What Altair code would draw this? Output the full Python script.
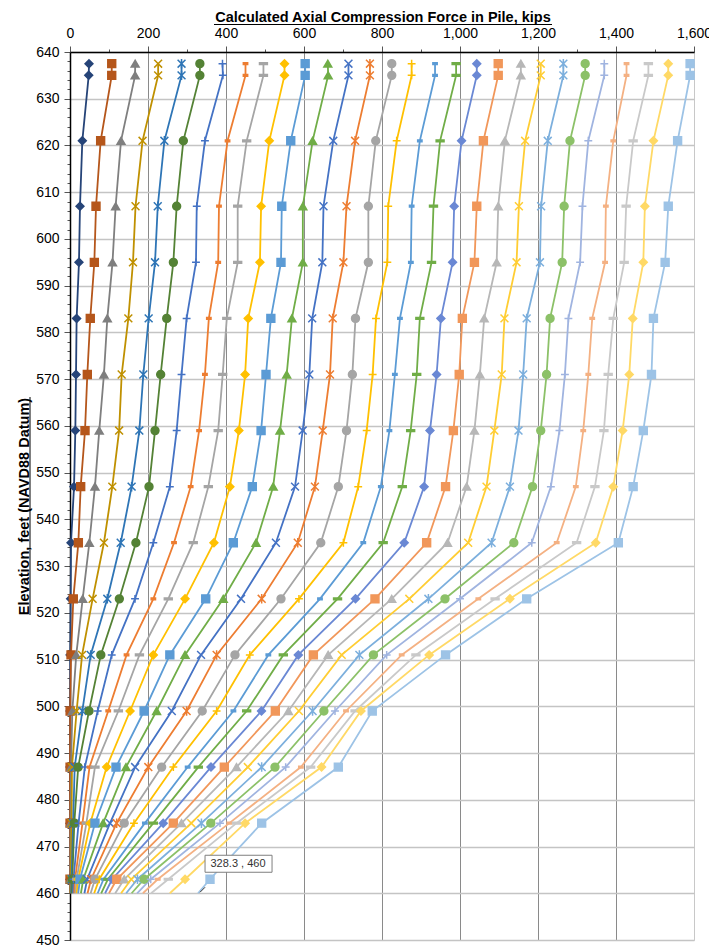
import altair as alt
import pandas as pd

# ---------------- data ----------------
elevations = [637.5, 635, 621, 607, 595, 583, 571, 559, 547, 535, 523, 511, 499, 487, 475, 463, 460]

s1 = [48.7, 48, 31.6, 25.6, 23, 17, 15.4, 13.7, 10.3, 2.6, 1.7, 0.5, 0.2, 0.1, 0, 0, 0]
s2 = [107, 107, 78.6, 66.7, 62.4, 52, 44.4, 38.5, 27.4, 21.4, 8.5, 2.6, 0.3, 0.2, 0.1, 0, 0]
s3 = [167, 167, 130.8, 117, 109, 95.7, 87, 75, 64, 49.6, 32.5, 16, 6, 2.5, 1.5, 1, 0.8]
s4 = [226, 226, 186, 168, 161.5, 149.6, 132.5, 126, 108.5, 87, 58, 31, 17, 5, 4, 2, 1.5]
s5 = [286, 286, 242, 225, 218, 201.7, 188, 177.8, 158, 130, 95.7, 53, 31.6, 12, 8, 4, 3]
s6 = [333, 333, 290.6, 273.5, 265, 248, 232.5, 218, 202.6, 169, 126.5, 79, 48.7, 21, 11, 6, 5]
s7 = [391, 392, 346, 325, 323, 299, 286, 273.5, 256, 213.7, 166.7, 107, 71, 38, 22, 9, 8]
s8 = [450, 450, 404, 382, 380, 356, 346, 331, 309.4, 266.7, 213.7, 145, 98, 50, 32, 13, 11]
s9 = [496, 496, 453, 430, 430, 402, 391.5, 380, 354.7, 316, 252, 178, 124, 64, 42, 17, 14]
s10 = [550, 550, 511, 490, 487, 457, 449, 433, 410, 369, 295, 213.7, 154, 94, 52, 21, 17]
s11 = [603, 603, 566, 543, 541, 515, 502.6, 490, 467.5, 418.8, 348, 256, 190, 118, 64, 25.6, 21]
s12 = [661, 662, 622, 597, 597, 569, 555.6, 538.5, 521, 477, 393, 295, 222, 143.6, 85, 34, 28]
s13 = [714, 714, 675, 650, 647, 621, 613.7, 596.6, 577, 528, 438.5, 336, 261, 167, 102.6, 44, 37]
s14 = [769, 769, 731, 709, 701, 673.6, 666.7, 648, 628, 584, 491.5, 376, 299, 200.8, 119.7, 54, 45]
s15 = [825, 825, 784, 765, 765, 732, 724, 709, 688, 643, 541, 423, 339, 235, 139, 64, 53]
s16 = [876, 876, 837.6, 816, 813.7, 784.6, 776, 760.7, 739, 701, 587, 461, 376, 265, 164, 75, 62]
s17 = [936, 936, 897, 876, 874, 846, 833, 819, 797, 752, 641, 508.5, 419, 301.7, 192, 86, 71]
s18 = [990, 990, 949, 932, 927, 897, 889, 873.5, 852, 803, 686, 547, 453, 329, 213.7, 97, 80]
s19 = [1043, 1043, 1004, 985, 981, 951, 940, 923, 908, 857, 732, 585.5, 491, 361.5, 239, 108, 90]
s20 = [1098, 1098, 1060, 1043, 1037, 1006, 998, 983, 963, 914.5, 782, 624, 526.5, 395.7, 265, 120, 100]
s21 = [1156, 1156, 1115, 1098, 1094, 1062, 1051, 1037, 1017, 968, 825, 662, 560, 427, 286, 139, 116]
s22 = [1207, 1207, 1167, 1151, 1145, 1114, 1107, 1088, 1068, 1021, 870, 696.6, 587, 456, 311, 157, 131]
s23 = [1265, 1265, 1225, 1208, 1205, 1171, 1162, 1150, 1128, 1081, 919, 742, 622, 491.5, 337, 173, 144]
s24 = [1321, 1321, 1282, 1267, 1262, 1231, 1222, 1207, 1186, 1138, 961.5, 778, 651, 525.6, 361, 190, 158]
s25 = [1370, 1370, 1329, 1314, 1308, 1278, 1269, 1255, 1233, 1184, 1000, 812, 679.5, 553, 384.6, 207, 172]
s26 = [1427, 1427, 1393, 1374, 1372, 1339, 1329, 1316, 1297, 1248, 1047, 850.5, 707.7, 592, 408.5, 225, 187]
s27 = [1483, 1483, 1444, 1426, 1421, 1393, 1380, 1369, 1346, 1299, 1090, 887, 731, 617, 427, 252, 208]
s28 = [1534, 1534, 1496, 1474, 1470, 1443, 1434, 1417, 1393, 1348, 1128, 921, 746, 645, 449, 295, 256]
s29 = [1590, 1590, 1558, 1534, 1526, 1496, 1491, 1470, 1444, 1406, 1171, 963, 775, 688, 491.5, 359, 328.3]

all_series = [s1, s2, s3, s4, s5, s6, s7, s8, s9, s10, s11, s12, s13, s14, s15,
              s16, s17, s18, s19, s20, s21, s22, s23, s24, s25, s26, s27, s28, s29]
series_names = [f"Series {i}" for i in range(1, 30)]

colors = ["#264478", "#B5561B", "#7F7F7F", "#BF9000", "#2E75B6", "#548235",
          "#4472C4", "#ED7D31", "#A5A5A5", "#FFC000", "#5B9BD5", "#70AD47",
          "#4472C4", "#ED7D31", "#A5A5A5", "#FFC000", "#5B9BD5", "#70AD47",
          "#6A88D4", "#F1975A", "#B7B7B7", "#FFCD33", "#7CAFDD", "#8CC168",
          "#A0B4E0", "#F4B183", "#C9C9C9", "#FFD966", "#9DC3E6"]

DIAMOND = "diamond"
SQUARE = "square"
TRIANGLE = "triangle-up"
XMARK = "M-1,-1L1,1M-1,1L1,-1"
STAR = "M-1,-1L1,1M-1,1L1,-1M0,-1.2L0,1.2"
CIRCLE = "circle"
PLUS = "M-1,0L1,0M0,-1L0,1"
DASH = "M-0.55,-0.22H0.55V0.22H-0.55Z"
LONGDASH = "M-1,-0.22H1V0.22H-1Z"
marker_cycle = [DIAMOND, SQUARE, TRIANGLE, XMARK, STAR, CIRCLE, PLUS, DASH, LONGDASH]
shapes = [marker_cycle[i % 9] for i in range(29)]

rows = []
for name, vals in zip(series_names, all_series):
    for i, (e, v) in enumerate(zip(elevations, vals)):
        rows.append({"series": name, "elev": e, "force": v, "idx": i,
                     "marker": e != 460})
df = pd.DataFrame(rows)

ann = pd.DataFrame([{"force": s29[-1], "elev": elevations[-1],
                     "label": f"{s29[-1]} , {elevations[-1]:g}"}])

x_ticks = list(range(0, 1601, 100))
y_ticks = list(range(450, 641, 2))

FONT = "Liberation Sans"
PLOT_W, PLOT_H = 624, 888

x_scale = alt.Scale(domain=[0, 1600], nice=False, zero=False)
y_scale = alt.Scale(domain=[450, 640], nice=False, zero=False)

x_axis = alt.Axis(
    orient="top", title=None,
    values=x_ticks, tickCount=500,
    labelExpr="datum.value % 200 === 0 ? format(datum.value, ',') : ''",
    labelOverlap=False, labelFlush=False, labelBound=False,
    labelFont=FONT, labelFontSize=14, labelColor="#000000", labelPadding=6,
    tickSize={"condition": {"test": "datum.value % 200 === 0", "value": 6}, "value": 3},
    tickColor="#555555",
    domainColor="#000000", domainWidth=1.5,
    gridOpacity={"condition": {"test": "datum.value % 200 === 0", "value": 1}, "value": 0},
    gridColor={"condition": {"test": "datum.value === 1600", "value": "#c8c8c8"}, "value": "#8a8a8a"},
    gridWidth=1,
)

y_axis = alt.Axis(
    orient="left",
    title="Elevation, feet (NAVD88 Datum)",
    titleFont=FONT, titleFontSize=14.5, titleFontWeight="bold", titleColor="#000000",
    titleAngle=270, titleBaseline="alphabetic", titleAlign="center",
    titleX=-42, titleY=454,
    values=y_ticks, tickCount=500,
    labelExpr="datum.value % 10 === 0 ? datum.value : ''",
    labelOverlap=False, labelFlush=False, labelBound=False,
    labelFont=FONT, labelFontSize=14, labelColor="#000000", labelPadding=5,
    tickSize={"condition": {"test": "datum.value % 10 === 0", "value": 6}, "value": 3},
    tickColor="#555555",
    domainColor="#000000", domainWidth=1.5,
    gridOpacity={"condition": {"test": "datum.value % 10 === 0", "value": 1}, "value": 0},
    gridColor="#c4c4c4", gridWidth=1.6,
)

color_scale = alt.Scale(domain=series_names, range=colors)

base = alt.Chart(df)

lines = base.mark_line(strokeWidth=1.8).encode(
    x=alt.X("force:Q", scale=x_scale, axis=x_axis),
    y=alt.Y("elev:Q", scale=y_scale, axis=y_axis),
    color=alt.Color("series:N", scale=color_scale, legend=None),
    order=alt.Order("idx:Q"),
)

points = base.transform_filter("datum.marker").mark_point(
    filled=True, size=62, strokeWidth=1.5, opacity=1
).encode(
    x=alt.X("force:Q", scale=x_scale),
    y=alt.Y("elev:Q", scale=y_scale),
    fill=alt.Fill("series:N", scale=color_scale, legend=None),
    stroke=alt.Stroke("series:N", scale=color_scale, legend=None),
    shape=alt.Shape("series:N", scale=alt.Scale(domain=series_names, range=shapes), legend=None),
)

ann_base = alt.Chart(ann)
ann_leader = ann_base.mark_rule(color="#333333", strokeWidth=1,
                                xOffset=2, x2Offset=7, yOffset=-1, y2Offset=-6).encode(
    x=alt.X("force:Q", scale=x_scale), x2="force:Q",
    y=alt.Y("elev:Q", scale=y_scale), y2="elev:Q",
)
ann_box = ann_base.mark_rect(fill="#ffffff", stroke="#7f7f7f", strokeWidth=1,
                             xOffset=7, x2Offset=74, yOffset=-38, y2Offset=-21).encode(
    x=alt.X("force:Q", scale=x_scale), x2="force:Q",
    y=alt.Y("elev:Q", scale=y_scale), y2="elev:Q",
)
ann_text = ann_base.mark_text(font=FONT, fontSize=11, color="#333333",
                              dx=40, dy=-29, align="center", baseline="middle").encode(
    x=alt.X("force:Q", scale=x_scale),
    y=alt.Y("elev:Q", scale=y_scale),
    text="label:N",
)

# chart title drawn as text with an underline (Vega text has no underline)
title_text = alt.Chart(ann).mark_text(
    text="Calculated Axial Compression Force in Pile, kips",
    font=FONT, fontSize=14.5, fontWeight="bold", color="#000000",
    align="center", baseline="alphabetic",
).encode(x=alt.value(313), y=alt.value(-30.5))
title_underline = alt.Chart(ann).mark_rule(color="#000000", strokeWidth=1).encode(
    x=alt.value(144), x2=alt.value(482), y=alt.value(-27.5)
)
ytitle_underline = alt.Chart(ann).mark_rule(color="#000000", strokeWidth=1).encode(
    x=alt.value(-40), y=alt.value(345), y2=alt.value(563)
)

chart = alt.layer(
    lines, points, ann_leader, ann_box, ann_text,
    title_text, title_underline, ytitle_underline
).properties(
    width=PLOT_W, height=PLOT_H,
    autosize=alt.AutoSizeParams(type="none"),
    padding={"left": 62, "top": 44, "right": 15, "bottom": 6},
).configure_view(stroke=None).configure(background="#ffffff")

chart.save("out.html", embed_options={"renderer": "svg", "actions": False})
